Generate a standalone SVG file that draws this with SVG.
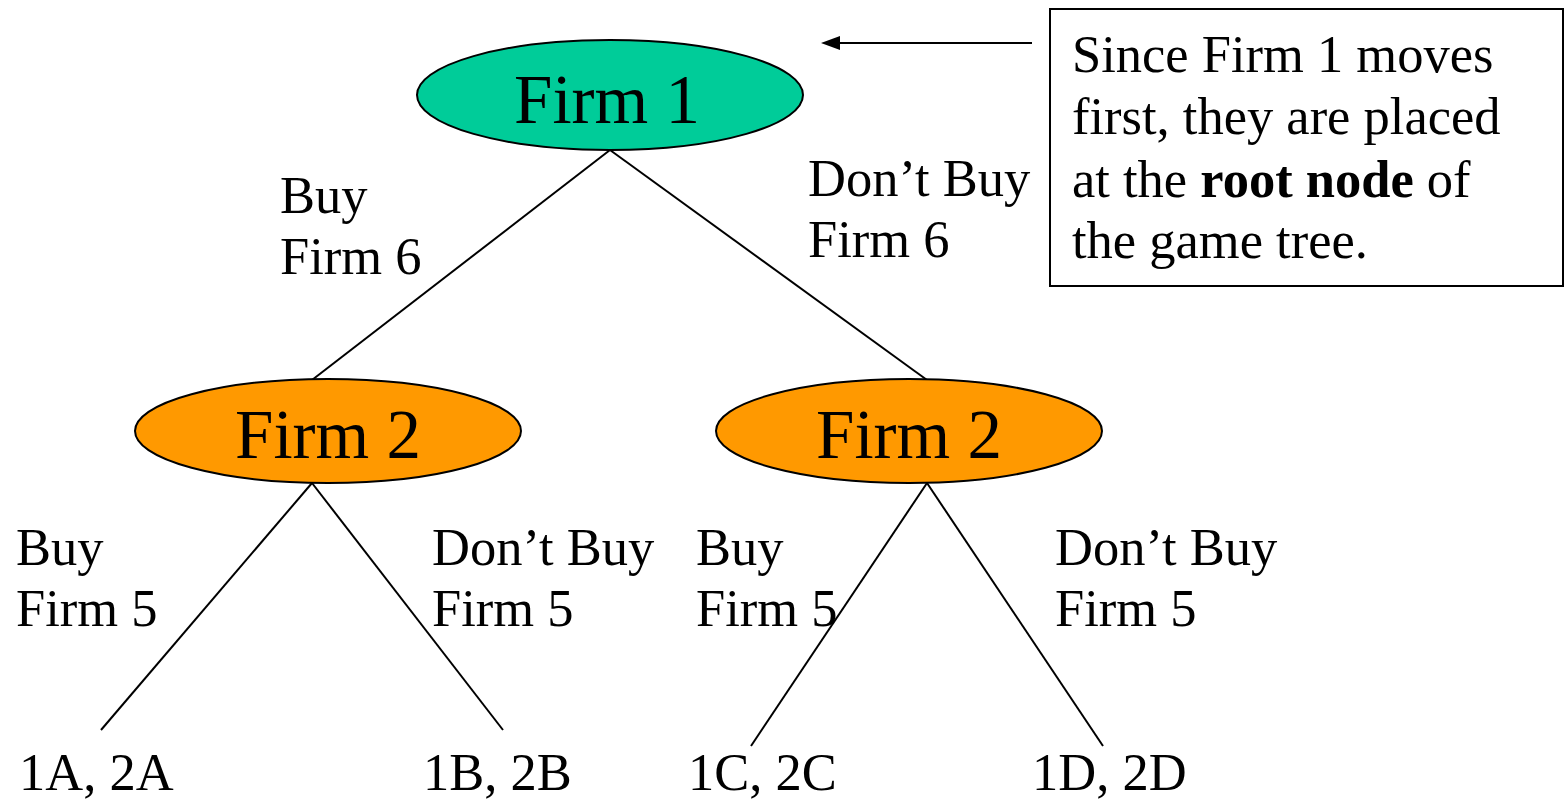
<svg xmlns="http://www.w3.org/2000/svg" width="1566" height="799" viewBox="0 0 1566 799">
<defs>
<style>
text{font-family:"Liberation Serif","Times New Roman",serif;fill:#000}
.node{font-size:69px;text-anchor:middle}
.lbl{font-size:52.5px}
.edge{stroke:#000;stroke-width:2;fill:none}
.ell{stroke:#000;stroke-width:2}
</style>
</defs>
<rect width="1566" height="799" fill="#fff"/>
<g id="connectors">
<line class="edge" x1="610" y1="150" x2="312" y2="380"/>
<line class="edge" x1="610" y1="150" x2="927" y2="380"/>
<line class="edge" x1="312" y1="483" x2="101" y2="730"/>
<line class="edge" x1="312" y1="483" x2="503" y2="730"/>
<line class="edge" x1="927" y1="483" x2="751" y2="746"/>
<line class="edge" x1="927" y1="483" x2="1103" y2="746"/>
<line class="edge" x1="1032" y1="43" x2="836" y2="43"/>
<path d="M821,43 L840,36 L840,50 z" fill="#000"/>
</g>
<g id="firm1">
<ellipse class="ell" cx="610" cy="95" rx="193" ry="55" fill="#00CC99"/>
<text class="node" x="607" y="123">Firm 1</text>
</g>
<g id="firm2-left">
<ellipse class="ell" cx="328" cy="431" rx="193" ry="52" fill="#FF9900"/>
<text class="node" x="328" y="458">Firm 2</text>
</g>
<g id="firm2-right">
<ellipse class="ell" cx="909" cy="431" rx="193" ry="52" fill="#FF9900"/>
<text class="node" x="909" y="458">Firm 2</text>
</g>
<g id="labels">
<text class="lbl" x="280" y="213">Buy</text>
<text class="lbl" x="280" y="274">Firm 6</text>
<text class="lbl" x="808" y="196">Don’t Buy</text>
<text class="lbl" x="808" y="257">Firm 6</text>
<text class="lbl" x="16" y="565">Buy</text>
<text class="lbl" x="16" y="626">Firm 5</text>
<text class="lbl" x="432" y="565">Don’t Buy</text>
<text class="lbl" x="432" y="626">Firm 5</text>
<text class="lbl" x="696" y="565">Buy</text>
<text class="lbl" x="696" y="626">Firm 5</text>
<text class="lbl" x="1055" y="565">Don’t Buy</text>
<text class="lbl" x="1055" y="626">Firm 5</text>
</g>
<g id="outcomes">
<text class="lbl" x="19" y="790">1A, 2A</text>
<text class="lbl" x="423" y="790">1B, 2B</text>
<text class="lbl" x="688" y="790">1C, 2C</text>
<text class="lbl" x="1032" y="790">1D, 2D</text>
</g>
<g id="note">
<rect x="1050" y="9" width="513" height="277" fill="#fff" stroke="#000" stroke-width="2"/>
<text class="lbl" x="1072" y="72">Since Firm 1 moves</text>
<text class="lbl" x="1072" y="134">first, they are placed</text>
<text class="lbl" x="1072" y="197">at the <tspan font-weight="bold">root node</tspan> of</text>
<text class="lbl" x="1072" y="258">the game tree.</text>
</g>
</svg>
